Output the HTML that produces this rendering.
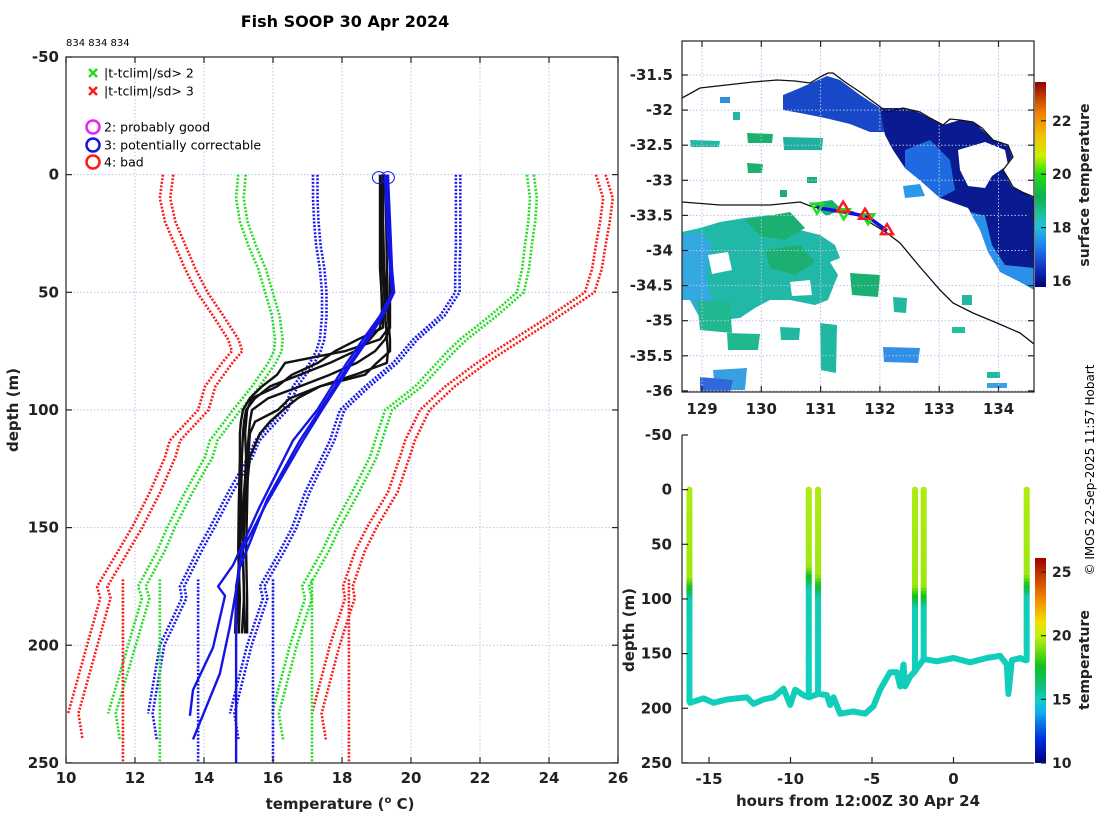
<!DOCTYPE html>
<html><head><meta charset="utf-8"><style>
html,body{margin:0;padding:0;background:#fff;}
svg{display:block;font-family:"DejaVu Sans","Liberation Sans",sans-serif;}
.tk{font-size:15px;font-weight:bold;fill:#222;}
.lab{font-size:15px;font-weight:bold;fill:#222;}
.grid{stroke:#b8c2e6;stroke-width:1;stroke-dasharray:1.5 2;fill:none;}
.ax{stroke:#222;stroke-width:1.2;fill:none;}
</style></head><body>
<svg id="fig" width="1100" height="820" viewBox="0 0 1100 820">
<defs>
<clipPath id="clipL"><rect x="66" y="57" width="552" height="706"/></clipPath>
<clipPath id="clipM"><rect x="682" y="41" width="352" height="351"/></clipPath>
<linearGradient id="cb1" x1="0" y1="1" x2="0" y2="0">
<stop offset="0" stop-color="#000080"/><stop offset="0.09" stop-color="#1030c0"/><stop offset="0.2" stop-color="#2080f0"/><stop offset="0.29" stop-color="#20c0e0"/><stop offset="0.35" stop-color="#20c0a0"/><stop offset="0.44" stop-color="#10b050"/><stop offset="0.55" stop-color="#20e010"/><stop offset="0.64" stop-color="#d0f000"/><stop offset="0.74" stop-color="#f0c000"/><stop offset="0.85" stop-color="#f08000"/><stop offset="1" stop-color="#900000"/>
</linearGradient>
<linearGradient id="cb2" x1="0" y1="1" x2="0" y2="0">
<stop offset="0" stop-color="#000080"/><stop offset="0.12" stop-color="#0030e0"/><stop offset="0.25" stop-color="#10b0f0"/><stop offset="0.31" stop-color="#10d0c0"/><stop offset="0.37" stop-color="#10c080"/><stop offset="0.47" stop-color="#10c020"/><stop offset="0.56" stop-color="#80e010"/><stop offset="0.62" stop-color="#c0f010"/><stop offset="0.69" stop-color="#f0e000"/><stop offset="0.81" stop-color="#f08000"/><stop offset="1" stop-color="#a00000"/>
</linearGradient>
</defs>
<text x="345" y="27" text-anchor="middle" style="font-size:16px;font-weight:bold">Fish SOOP 30 Apr 2024</text>
<text x="66" y="46" style="font-size:10px">834 834 834</text>
<g id="left"></g>
<g id="map"></g>
<g id="bot"></g>
<text transform="translate(1094,470) rotate(-90)" text-anchor="middle" style="font-size:12px">© IMOS 22-Sep-2025 11:57 Hobart</text>
</svg>
<script>
// ---------- LEFT PANEL DATA ----------
const climDepth = [0,10,20,30,40,50,60,70,75,80,90,100,113,120,135,150,160,175,180,200,229];
const climRed3Lo = [12.81,12.72,12.87,13.16,13.45,13.80,14.26,14.70,14.81,14.52,14.03,13.83,13.01,12.87,12.43,11.91,11.51,10.90,10.99,10.61,10.06];
const climGrn2Lo = [14.99,14.93,15.04,15.28,15.57,15.77,15.97,16.06,16.03,15.86,15.39,14.84,14.17,14.03,13.45,12.93,12.64,12.09,12.20,11.80,11.22];
const climBlu1Lo = [17.16,17.16,17.19,17.25,17.36,17.42,17.42,17.36,17.25,17.07,16.58,16.29,15.48,15.28,14.70,14.17,13.80,13.30,13.36,12.72,12.38];
const climBlu1Hi = [21.30,21.30,21.30,21.30,21.28,21.28,20.84,20.06,19.77,19.48,18.67,17.94,17.65,17.42,16.93,16.55,16.20,15.62,15.71,15.25,14.75];
const climGrn2Hi = [23.36,23.45,23.40,23.30,23.22,23.07,22.29,21.42,21.07,20.75,20.12,19.25,18.96,18.81,18.29,17.74,17.42,16.84,16.93,16.49,15.97];
const climRed3Hi = [25.36,25.57,25.48,25.36,25.25,25.04,24.03,22.96,22.43,21.91,20.99,20.26,19.83,19.68,19.33,18.72,18.38,18.03,18.09,17.65,17.13];
const climPairOffset = [0.3,0.22,0.13,0.13,0.2,0.28];
const deepClimTemps = [11.65,12.72,13.83,16.0,17.13,18.2];
const deepClimColors = ['red','green','blue','blue','green','red'];
const xbtDepth = [0,20,40,60,65,70,75,80,85,90,95,100,105,110,120,140,160,180,195];
const xbt1 = [19.22,19.19,19.22,19.33,19.36,19.10,18.09,16.35,16.12,15.68,15.33,15.13,15.07,15.04,15.04,15.01,14.99,15.04,15.01];
const xbt2 = [19.10,19.10,19.10,19.19,19.19,18.46,17.80,17.30,16.55,16.12,15.39,15.25,15.22,15.19,15.22,15.16,15.13,15.16,15.10];
const xbt3 = [19.28,19.28,19.30,19.33,19.36,19.39,19.39,19.01,18.67,17.36,16.72,16.29,15.91,15.62,15.33,15.19,15.13,15.16,15.19];
const xbt4 = [19.16,19.16,19.19,19.25,19.28,19.30,19.33,19.30,18.38,17.36,16.49,16.14,15.48,15.33,15.28,15.25,15.22,15.25,15.25];
const xbt5 = [19.33,19.36,19.39,19.39,19.39,19.25,18.96,18.43,17.65,16.78,15.86,15.39,15.33,15.30,15.25,15.13,15.04,14.99,14.93];
const xbt6 = [19.13,19.13,19.13,19.16,19.10,18.81,18.38,17.65,16.78,15.91,15.48,15.22,15.16,15.13,15.10,15.07,15.04,14.93,14.90];
const flagDepthA = [0,20,40,50,60,70,80,90,100,113,141,166,175,179,201,219,230];
const flagTempA = [19.25,19.30,19.39,19.45,19.10,18.61,18.14,17.71,17.28,16.58,15.62,14.84,14.41,14.61,14.26,13.68,13.59];
const flagDepthB = [0,20,40,50,60,70,80,90,100,113,138,167,192,212,240];
const flagTempB = [19.30,19.36,19.42,19.48,19.16,18.70,18.23,17.80,17.36,16.78,15.83,15.04,14.75,14.46,13.68];
const flagDepthC = [0,20,40,50,60,70,80,90,100,113,140,160,175,250];
const flagTempC = [19.33,19.39,19.45,19.51,19.19,18.75,18.29,17.86,17.42,16.87,15.80,15.10,14.93,14.93];
const flagCircleTemps = [19.07,19.33];
const xTicksL = [10,12,14,16,18,20,22,24,26];
const yTicksL = [-50,0,50,100,150,200,250];

// ---------- MAP DATA ----------
const lonTicks = [129,130,131,132,133,134];
const latTicks = [-31.5,-32,-32.5,-33,-33.5,-34,-34.5,-35,-35.5,-36];
const trackLon = [130.94,131.39,131.8,132.12];
const trackLat = [-33.39,-33.45,-33.52,-33.72];
const dropLonGood = [130.94,131.39,131.8];
const dropLatGood = [-33.39,-33.47,-33.54];
const dropLonBad = [131.38,131.75,132.12];
const dropLatBad = [-33.39,-33.49,-33.71];
const sstTicks = [16,18,20,22];

// ---------- BOTTOM PANEL DATA ----------
const traceHours = [-16.16,-15.34,-14.73,-13.91,-12.68,-12.27,-11.66,-11.04,-10.43,-10.02,-9.71,-9.2,-8.9,-8.88,-8.31,-8.28,-7.77,-7.57,-7.36,-6.95,-6.14,-5.42,-4.91,-4.5,-3.89,-3.48,-3.27,-3.07,-2.97,-2.66,-2.35,-2.36,-1.83,-1.82,-1.02,0.0,1.02,2.04,2.86,3.27,3.37,3.58,4.09,4.4,4.49];
const traceDepth = [195,191,195,192,190,196,192,190,182,197,183,188,190,190,187,187,188,197,190,205,203,205,198,183,167,167,180,160,180,171,166,166,155,155,157,154,158,154,152,160,187,156,154,156,156];
const profHours = [-16.2,-8.88,-8.31,-2.36,-1.83,4.49];
const profBottom = [195,190,187,166,155,156];
const profThermo = [80,70,78,88,88,78];
const tempTicks = [10,15,20,25];
const hourTicks = [-15,-10,-5,0];
const depthTicksB = [-50,0,50,100,150,200,250];

const NS='http://www.w3.org/2000/svg';
function mk(tag, parent){const e=document.createElementNS(NS,tag);parent.appendChild(e);return e;}
function pts(xs,ys){return xs.map((x,i)=>x.toFixed(1)+','+ys[i].toFixed(1)).join(' ');}

const xL=t=>66+(t-10)*34.5, yL=d=>57+(d+50)*2.353;
const xM=lon=>702+(lon-129)*59.3, yM=lat=>75+(-31.5-lat)*70.2;
const xB=h=>953.5+h*16.3, yB=d=>435+(d+50)*1.093;
const yC1=v=>281-(v-16)*26.7, yC2=v=>763-(v-10)*12.73;

// ===== LEFT PANEL =====
const L=document.getElementById('left');
xTicksL.forEach(t=>{const g=mk('line',L);g.setAttribute('x1',xL(t));g.setAttribute('x2',xL(t));g.setAttribute('y1',57);g.setAttribute('y2',763);g.setAttribute('class','grid');

});
yTicksL.forEach(t=>{const g=mk('line',L);g.setAttribute('x1',66);g.setAttribute('x2',618);g.setAttribute('y1',yL(t));g.setAttribute('y2',yL(t));g.setAttribute('class','grid');

});
const clim=mk('g',L);clim.setAttribute('clip-path','url(#clipL)');


const climSets=[[climRed3Lo,'#ff1a1a'],[climGrn2Lo,'#22dd22'],[climBlu1Lo,'#1a1aee'],[climBlu1Hi,'#1a1aee'],[climGrn2Hi,'#22dd22'],[climRed3Hi,'#ff1a1a']];
climSets.forEach((s,i)=>{
  for(let k=0;k<2;k++){
    const temps=s[0].map(v=>v+k*climPairOffset[i]);
    const depths=climDepth.slice();
    if(k===1){temps.push(s[0][s[0].length-1]+0.12+climPairOffset[i]);depths.push(240);}
    const p=mk('polyline',clim);
    p.setAttribute('points',pts(temps.map(xL),depths.map(yL)));
    p.setAttribute('fill','none');p.setAttribute('stroke',s[1]);p.setAttribute('stroke-width','2.6');p.setAttribute('stroke-dasharray','2 1.6');
    
    
  }
});
deepClimTemps.forEach((t,i)=>{const p=mk('line',clim);p.setAttribute('x1',xL(t));p.setAttribute('x2',xL(t));p.setAttribute('y1',yL(172));p.setAttribute('y2',yL(250));
p.setAttribute('stroke',deepClimColors[i]==='red'?'#ff1a1a':deepClimColors[i]==='green'?'#22dd22':'#1a1aee');p.setAttribute('stroke-width','2.6');p.setAttribute('stroke-dasharray','2 1.6');

});
const xbtG=mk('g',L);xbtG.setAttribute('clip-path','url(#clipL)');


[xbt1,xbt2,xbt3,xbt4,xbt5,xbt6].forEach(a=>{const p=mk('polyline',xbtG);p.setAttribute('points',pts(a.map(xL),xbtDepth.map(yL)));
p.setAttribute('fill','none');p.setAttribute('stroke','#111');p.setAttribute('stroke-width','2.4');p.setAttribute('stroke-linejoin','round');

});
[[flagTempA,flagDepthA],[flagTempB,flagDepthB],[flagTempC,flagDepthC]].forEach(a=>{const p=mk('polyline',xbtG);p.setAttribute('points',pts(a[0].map(xL),a[1].map(yL)));
p.setAttribute('fill','none');p.setAttribute('stroke','#1414e6');p.setAttribute('stroke-width','2.4');p.setAttribute('stroke-linejoin','round');

});
flagCircleTemps.forEach(t=>{const c=mk('ellipse',L);c.setAttribute('cx',xL(t));c.setAttribute('cy',yL(0)+3);c.setAttribute('rx',6.5);c.setAttribute('ry',6);
c.setAttribute('fill','none');c.setAttribute('stroke','#1414e6');c.setAttribute('stroke-width','1');

});
{const r=mk('rect',L);r.setAttribute('x',66);r.setAttribute('y',57);r.setAttribute('width',552);r.setAttribute('height',706);r.setAttribute('class','ax');

}
xTicksL.forEach(t=>{[[763,757],[57,63]].forEach(a=>{const l=mk('line',L);l.setAttribute('x1',xL(t));l.setAttribute('x2',xL(t));l.setAttribute('y1',a[0]);l.setAttribute('y2',a[1]);l.setAttribute('class','ax');

});
const tx=mk('text',L);tx.textContent=t;tx.setAttribute('x',xL(t));tx.setAttribute('y',783);tx.setAttribute('text-anchor','middle');tx.setAttribute('class','tk');

});
yTicksL.forEach(t=>{[[66,72],[618,612]].forEach(a=>{const l=mk('line',L);l.setAttribute('x1',a[0]);l.setAttribute('x2',a[1]);l.setAttribute('y1',yL(t));l.setAttribute('y2',yL(t));l.setAttribute('class','ax');

});
const tx=mk('text',L);tx.textContent=t;tx.setAttribute('x',59);tx.setAttribute('y',yL(t)+5);tx.setAttribute('text-anchor','end');tx.setAttribute('class','tk');

});
{const t=mk('text',L);t.setAttribute('transform','translate(18,410) rotate(-90)');t.setAttribute('text-anchor','middle');t.setAttribute('class','lab');t.textContent='depth (m)';


const t2=mk('text',L);t2.setAttribute('x',340);t2.setAttribute('y',809);t2.setAttribute('text-anchor','middle');t2.setAttribute('class','lab');
t2.innerHTML='temperature (<tspan dy="-6" style="font-size:10px">o</tspan><tspan dy="6"> C)</tspan>';

}
{const lg=mk('g',L);
const items=[['x','#22dd22',73,'|t-tclim|/sd> 2'],['x','#ff1a1a',91,'|t-tclim|/sd> 3'],['o','#ee22ee',127,'2: probably good'],['o','#1414e6',145,'3: potentially correctable'],['o','#ff1a1a',162,'4: bad']];
items.forEach(it=>{const e=mk('g',lg);


if(it[0]==='x'){[[-4,-4,4,4],[-4,4,4,-4]].forEach(s=>{const l=mk('line',e);l.setAttribute('x1',93+s[0]);l.setAttribute('y1',it[2]+s[1]);l.setAttribute('x2',93+s[2]);l.setAttribute('y2',it[2]+s[3]);l.setAttribute('stroke',it[1]);l.setAttribute('stroke-width','2.5');});}
else{const c=mk('circle',e);c.setAttribute('cx',93);c.setAttribute('cy',it[2]);c.setAttribute('r',6.5);c.setAttribute('fill','none');c.setAttribute('stroke',it[1]);c.setAttribute('stroke-width','2.5');}
const t=mk('text',e);t.setAttribute('x',104);t.setAttribute('y',it[2]+4.5);t.setAttribute('style','font-size:12.5px');t.textContent=it[3];});}

// ===== MAP =====
const M=document.getElementById('map');
const sstG=mk('g',M);sstG.setAttribute('clip-path','url(#clipM)');


const sstPolys=[
['#1848c8','783,95 800,88 827,76 840,80 860,95 880,108 888,118 885,132 870,132 850,124 825,118 800,113 783,110'],
['#0a1a90','880,108 905,108 920,113 943,125 960,120 975,123 993,140 1008,146 1012,157 1003,170 1012,187 1034,198 1034,290 1020,280 1000,270 988,250 980,228 968,208 940,198 922,182 905,168 893,150 885,135'],
['#ffffff','958,150 985,142 1005,150 1008,165 992,176 985,188 968,186 960,170'],
['#1e6ae0','905,150 930,140 950,160 955,190 940,198 922,182 905,168'],
['#2a90e8','970,212 985,216 992,245 1005,265 1034,268 1034,290 1020,282 1000,272 988,252 980,230'],
['#2a9ae8','903,186 920,184 925,196 905,198'],
['#22b8a8','682,232 700,228 720,222 745,218 770,215 790,222 800,230 820,235 835,245 840,258 830,262 838,275 828,300 815,305 790,300 770,300 755,308 740,318 722,320 700,318 690,300 682,300'],
['#34a8e0','682,235 700,232 712,245 706,275 712,300 700,318 690,300 682,300'],
['#1cb070','745,220 790,212 805,228 785,240 760,236'],
['#1cb070','765,250 800,245 815,262 795,275 770,268'],
['#1cb070','812,203 832,200 842,210 826,216'],
['#ffffff','708,255 728,252 732,270 712,274'],
['#ffffff','790,282 810,280 812,295 792,296'],
['#20b890','697,300 730,302 732,333 700,330'],
['#20b890','727,333 760,334 758,350 728,350'],
['#38a0e0','713,370 747,368 745,390 715,390'],
['#3068d8','700,377 733,380 730,392 700,392'],
['#20b8a0','820,323 837,325 836,373 821,370'],
['#3090e8','883,347 920,348 918,363 884,362'],
['#1cb070','850,273 880,275 878,297 852,295'],
['#20b8a0','893,297 907,298 906,313 894,312'],
['#20b8a0','780,327 800,328 799,340 781,340'],
['#1cb070','747,133 773,134 772,143 748,143'],
['#20b0a0','783,137 823,138 822,150 784,150'],
['#1cb070','747,163 763,164 762,173 748,173'],
['#20b8a0','690,140 720,141 719,147 691,147'],
['#1cb070','807,177 817,177 817,183 807,183'],
['#3090e0','720,97 730,97 730,103 720,103'],
['#20b8a0','733,112 740,112 740,120 733,120'],
['#1cb070','780,190 787,190 787,197 780,197'],
['#20c0a0','952,327 965,327 965,333 952,333'],
['#3aa0e8','987,383 1007,383 1007,388 987,388'],
['#20b8a0','987,372 1000,372 1000,378 987,378'],
['#20b8a0','962,295 972,295 972,305 962,305']
];
sstPolys.forEach(p=>{const e=mk('polygon',sstG);e.setAttribute('points',p[1]);e.setAttribute('fill',p[0]);

});
lonTicks.forEach(t=>{const g=mk('line',M);g.setAttribute('x1',xM(t));g.setAttribute('x2',xM(t));g.setAttribute('y1',41);g.setAttribute('y2',392);g.setAttribute('class','grid');


[[392,386],[41,47]].forEach(a=>{const l=mk('line',M);l.setAttribute('x1',xM(t));l.setAttribute('x2',xM(t));l.setAttribute('y1',a[0]);l.setAttribute('y2',a[1]);l.setAttribute('class','ax');

});
const tx=mk('text',M);tx.textContent=t;tx.setAttribute('x',xM(t));tx.setAttribute('y',414);tx.setAttribute('text-anchor','middle');tx.setAttribute('class','tk');

});
latTicks.forEach(t=>{const g=mk('line',M);g.setAttribute('x1',682);g.setAttribute('x2',1034);g.setAttribute('y1',yM(t));g.setAttribute('y2',yM(t));g.setAttribute('class','grid');


[[682,688],[1034,1028]].forEach(a=>{const l=mk('line',M);l.setAttribute('x1',a[0]);l.setAttribute('x2',a[1]);l.setAttribute('y1',yM(t));l.setAttribute('y2',yM(t));l.setAttribute('class','ax');

});
const tx=mk('text',M);tx.textContent=t;tx.setAttribute('x',673);tx.setAttribute('y',yM(t)+5);tx.setAttribute('text-anchor','end');tx.setAttribute('class','tk');

});
const coast=mk('g',M);coast.setAttribute('clip-path','url(#clipM)');


['682,98 700,88 753,82 777,80 795,81 810,83 822,76 828,73 833,73 845,82 860,92 875,103 887,112 903,108 920,112 930,118 943,125 950,119 960,120 973,122 982,128 993,140 1008,145 1013,157 1003,170 1008,178 1013,187 1022,192 1034,197',
 '682,202 720,205 770,205 800,202 813,207 853,212 887,233 900,243 920,267 940,290 953,303 973,313 997,323 1020,333 1034,344'].forEach(s=>{
 const p=mk('polyline',coast);p.setAttribute('points',s);p.setAttribute('fill','none');p.setAttribute('stroke','#111');p.setAttribute('stroke-width','1.3');
 
 });
{const p=mk('polyline',M);p.setAttribute('points',pts(trackLon.map(xM),trackLat.map(yM)));p.setAttribute('fill','none');p.setAttribute('stroke','#1010e0');p.setAttribute('stroke-width','3.5');

}
dropLonGood.forEach((lo,i)=>{const x=xM(lo),y=yM(dropLatGood[i]);const p=mk('polygon',M);p.setAttribute('points',`${x-6},${y-4} ${x+6},${y-4} ${x},${y+6}`);p.setAttribute('fill','none');p.setAttribute('stroke','#22dd22');p.setAttribute('stroke-width','2.5');

});
dropLonBad.forEach((lo,i)=>{const x=xM(lo),y=yM(dropLatBad[i]);const p=mk('polygon',M);p.setAttribute('points',`${x-6},${y+4} ${x+6},${y+4} ${x},${y-6}`);p.setAttribute('fill','none');p.setAttribute('stroke','#ff1a1a');p.setAttribute('stroke-width','2.5');

});
{const r=mk('rect',M);r.setAttribute('x',682);r.setAttribute('y',41);r.setAttribute('width',352);r.setAttribute('height',351);r.setAttribute('class','ax');


const cb=mk('rect',M);cb.setAttribute('x',1035);cb.setAttribute('y',82);cb.setAttribute('width',11);cb.setAttribute('height',205);cb.setAttribute('fill','url(#cb1)');

}
sstTicks.forEach(t=>{const l=mk('line',M);l.setAttribute('x1',1046);l.setAttribute('x2',1041);l.setAttribute('y1',yC1(t));l.setAttribute('y2',yC1(t));l.setAttribute('class','ax');


const tx=mk('text',M);tx.textContent=t;tx.setAttribute('x',1052);tx.setAttribute('y',yC1(t)+5);tx.setAttribute('class','tk');tx.setAttribute('style','font-size:14px');

});
{const t=mk('text',M);t.setAttribute('transform','translate(1089,185) rotate(-90)');t.setAttribute('text-anchor','middle');t.setAttribute('class','lab');t.setAttribute('style','font-size:14px');t.textContent='surface temperature';

}

// ===== BOTTOM PANEL =====
const B=document.getElementById('bot');
const cstops=[[10,[0,0,128]],[11.5,[0,48,224]],[13.8,[16,176,240]],[15,[16,208,192]],[16,[16,192,128]],[17.5,[16,192,32]],[19,[128,224,16]],[20,[192,240,16]],[21,[240,224,0]],[23,[240,128,0]],[26,[160,0,0]]];
function cmap(v){if(v<=cstops[0][0])return 'rgb(0,0,128)';for(let i=1;i<cstops.length;i++){if(v<=cstops[i][0]){const a=cstops[i-1],b=cstops[i],f=(v-a[0])/(b[0]-a[0]);return 'rgb('+a[1].map((c,k)=>Math.round(c+(b[1][k]-c)*f)).join(',')+')';}}return 'rgb(160,0,0)';}
{const p=mk('polyline',B);p.setAttribute('points',pts(traceHours.map(xB),traceDepth.map(yB)));p.setAttribute('fill','none');p.setAttribute('stroke',cmap(15.1));p.setAttribute('stroke-width','6');p.setAttribute('stroke-linejoin','round');p.setAttribute('stroke-linecap','round');

}
profHours.forEach((h,i)=>{const g=mk('g',B);


const th=profThermo[i];
for(let d=0;d<profBottom[i];d+=3){const dm=d+1.5;let T;
 if(dm<th)T=19.7-dm*0.003;else if(dm<th+12)T=19.4-(dm-th)*0.2;else if(dm<th+20)T=17.0-(dm-th-12)*0.22;else T=15.2-Math.min(0.2,(dm-th-20)*0.003);
 const l=mk('line',g);l.setAttribute('x1',xB(h));l.setAttribute('x2',xB(h));l.setAttribute('y1',yB(d));l.setAttribute('y2',yB(Math.min(d+3.5,profBottom[i])));
 l.setAttribute('stroke',cmap(T));l.setAttribute('stroke-width','6');}
const cap=mk('circle',g);cap.setAttribute('cx',xB(h));cap.setAttribute('cy',yB(0));cap.setAttribute('r',3);cap.setAttribute('fill',cmap(19.7));});
{const a=mk('polyline',B);a.setAttribute('points','682,435 682,763 1034,763');a.setAttribute('class','ax');

}
depthTicksB.forEach(t=>{const l=mk('line',B);l.setAttribute('x1',682);l.setAttribute('x2',688);l.setAttribute('y1',yB(t));l.setAttribute('y2',yB(t));l.setAttribute('class','ax');


const tx=mk('text',B);tx.textContent=t;tx.setAttribute('x',672);tx.setAttribute('y',yB(t)+5);tx.setAttribute('text-anchor','end');tx.setAttribute('class','tk');

});
hourTicks.forEach(t=>{const l=mk('line',B);l.setAttribute('x1',xB(t));l.setAttribute('x2',xB(t));l.setAttribute('y1',763);l.setAttribute('y2',757);l.setAttribute('class','ax');


const tx=mk('text',B);tx.textContent=t;tx.setAttribute('x',xB(t));tx.setAttribute('y',784);tx.setAttribute('text-anchor','middle');tx.setAttribute('class','tk');

});
{const cb=mk('rect',B);cb.setAttribute('x',1035);cb.setAttribute('y',558);cb.setAttribute('width',11);cb.setAttribute('height',205);cb.setAttribute('fill','url(#cb2)');

}
tempTicks.forEach(t=>{const l=mk('line',B);l.setAttribute('x1',1046);l.setAttribute('x2',1041);l.setAttribute('y1',yC2(t));l.setAttribute('y2',yC2(t));l.setAttribute('class','ax');


const tx=mk('text',B);tx.textContent=t;tx.setAttribute('x',1052);tx.setAttribute('y',yC2(t)+5);tx.setAttribute('class','tk');tx.setAttribute('style','font-size:14px');

});
{const t=mk('text',B);t.setAttribute('transform','translate(1089,660) rotate(-90)');t.setAttribute('text-anchor','middle');t.setAttribute('class','lab');t.setAttribute('style','font-size:14px');t.textContent='temperature';


const a=mk('text',B);a.setAttribute('transform','translate(634,630) rotate(-90)');a.setAttribute('text-anchor','middle');a.setAttribute('class','lab');a.textContent='depth (m)';


const x=mk('text',B);x.setAttribute('x',858);x.setAttribute('y',806);x.setAttribute('text-anchor','middle');x.setAttribute('class','lab');x.textContent='hours from 12:00Z 30 Apr 24';

}
</script>
</body></html>
